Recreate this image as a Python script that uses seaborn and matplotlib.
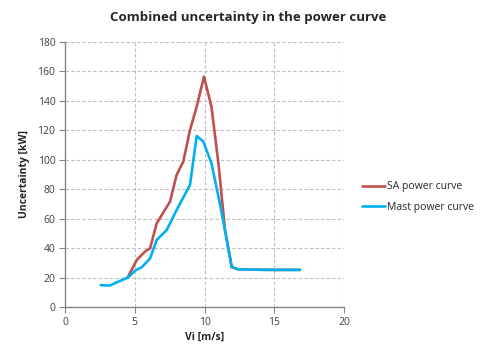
import matplotlib
matplotlib.use("Agg")
import matplotlib.pyplot as plt
import seaborn as sns
import pandas as pd

sa_x = [4.5, 5.14, 5.73, 6.1, 6.57, 7.53, 8.0, 8.48, 8.96, 9.44, 9.96, 10.5, 11.0, 11.47, 11.95, 12.4, 13.0, 14.0, 15.0, 16.0, 16.85]
sa_y = [20.2, 31.9, 37.6, 39.9, 56.8, 71.6, 89.7, 98.7, 120.2, 136.0, 156.5, 136.0, 97.6, 52.3, 27.0, 25.6, 25.5, 25.3, 25.2, 25.2, 25.2]

mast_x = [2.56, 3.2, 3.82, 4.54, 5.02, 5.5, 6.1, 6.57, 7.29, 8.0, 8.96, 9.44, 9.92, 10.5, 11.1, 11.6, 11.95, 12.4, 13.0, 14.0, 15.0, 16.0, 16.85]
mast_y = [14.9, 14.5, 17.2, 20.2, 24.7, 27.0, 33.0, 45.5, 52.3, 65.9, 82.9, 116.2, 112.3, 97.6, 70.4, 45.5, 27.4, 25.6, 25.5, 25.3, 25.2, 25.2, 25.2]

series_names = ["SA power curve", "Mast power curve"]
colors = ["#C0504D", "#00B0F0"]

df = pd.concat([
    pd.DataFrame({"x": sa_x, "y": sa_y, "series": series_names[0]}),
    pd.DataFrame({"x": mast_x, "y": mast_y, "series": series_names[1]}),
], ignore_index=True)

sns.set_style("white")
plt.rcParams["font.family"] = ["Open Sans", "DejaVu Sans"]

fig = plt.figure(figsize=(4.97, 3.49), dpi=100)
ax = fig.add_axes([65 / 497, (349 - 307) / 349, (344 - 65) / 497, (307 - 42) / 349])

sns.lineplot(data=df, x="x", y="y", hue="series", palette=colors, sort=False,
             linewidth=1.9, ax=ax, estimator=None)

ax.set_xlim(0, 20)
ax.set_ylim(0, 180)
ax.set_xticks([0, 5, 10, 15, 20])
ax.set_yticks(list(range(0, 181, 20)))
ax.grid(True, color="#BFBFBF", linestyle=(0, (3, 2)), linewidth=0.8)
for s in ["top", "right"]:
    ax.spines[s].set_visible(False)
for s in ["left", "bottom"]:
    ax.spines[s].set_color("#868686")
    ax.spines[s].set_linewidth(1)
ax.tick_params(axis="both", which="both", length=4, color="#868686", labelsize=7.5,
               labelcolor="#404040", direction="out", left=True, bottom=True, pad=3)

ax.set_xlabel("Vi [m/s]", fontsize=7.5, fontweight="bold", labelpad=3)
ax.set_ylabel("Uncertainty [kW]", fontsize=7.5, fontweight="bold", labelpad=5)
fig.text(248 / 497, 1 - 18 / 349, "Combined uncertainty in the power curve",
         fontsize=9.5, fontweight="bold", ha="center", va="center")

leg = ax.legend(loc="center left", bbox_to_anchor=(1.03, 0.415), frameon=False,
                fontsize=7.5, handlelength=2.2, handletextpad=0.2, labelspacing=0.9)

fig.savefig("out.png", dpi=100)
